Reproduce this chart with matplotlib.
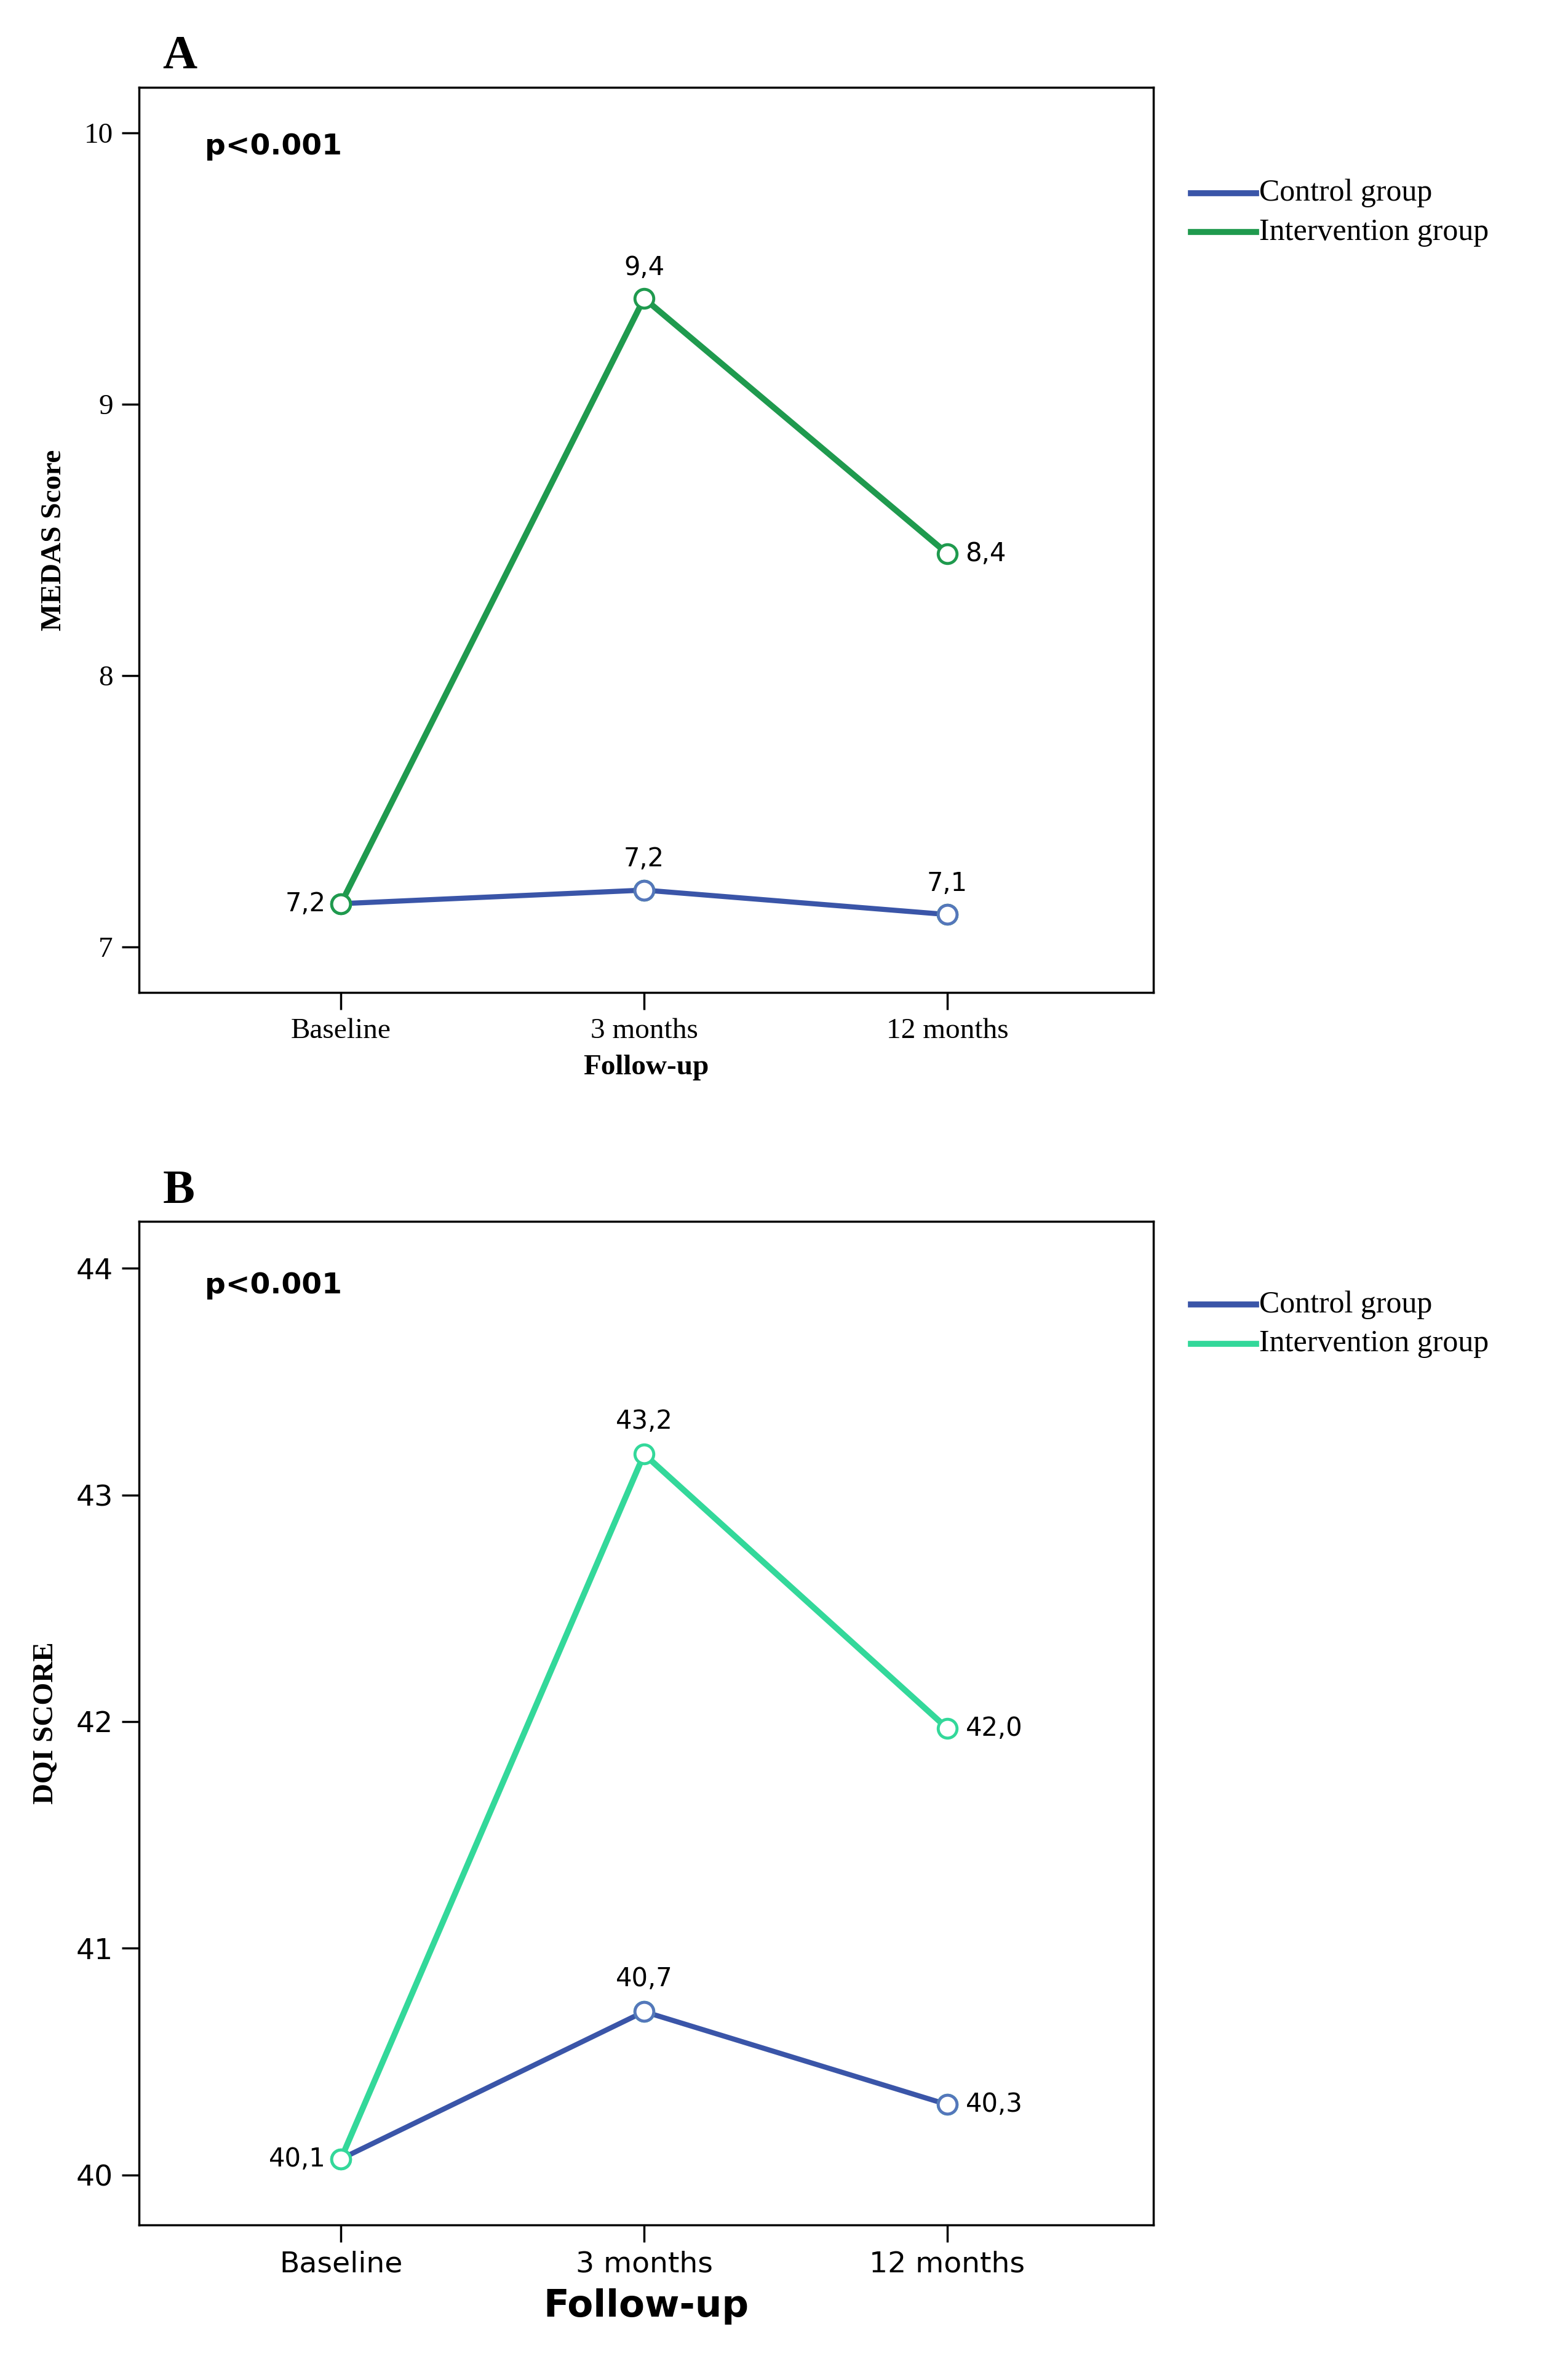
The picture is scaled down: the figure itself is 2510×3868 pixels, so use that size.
import matplotlib.pyplot as plt

timepoints = ["Baseline", "3 months", "12 months"]
medas_control = [7.16, 7.21, 7.12]
medas_interv = [7.16, 9.39, 8.45]
medas_control_lbl = ["7,2", "7,2", "7,1"]
medas_interv_lbl = ["", "9,4", "8,4"]
dqi_control = [40.07, 40.72, 40.31]
dqi_interv = [40.07, 43.18, 41.97]
dqi_control_lbl = ["40,1", "40,7", "40,3"]
dqi_interv_lbl = ["", "43,2", "42,0"]

blue = "#3a55a8"
green_a = "#1f9a4e"
green_b = "#33d89a"

fig = plt.figure(figsize=(25.1, 38.68), dpi=100)
W, H = 1024, 1578

def panel(rect, ctrl, intv, clbl, ilbl, ylim, yticks, ylabel, gcol, letter, tickfont, xlabfont):
    ax = fig.add_axes(rect)
    x = list(range(len(timepoints)))
    ax.plot(x, intv, color=gcol, lw=7, zorder=2)
    ax.plot(x, ctrl, color=blue, lw=6, zorder=3)
    ax.plot(x, intv, 'o', ms=22, mfc='white', mec=gcol, mew=3.5, zorder=4)
    ax.plot(x, ctrl, 'o', ms=22, mfc='white', mec=blue if ctrl[0] != intv[0] else gcol, mew=3.5, zorder=5)
    ax.plot(x[1:], ctrl[1:], 'o', ms=22, mfc='white', mec="#5577bb", mew=3.5, zorder=5)
    span = ylim[1] - ylim[0]
    for i in range(3):
        if i == 0:
            ax.text(i - 0.05, ctrl[i], clbl[i], ha='right', va='center', fontsize=30, family='DejaVu Sans')
        elif i == 1:
            ax.text(i, ctrl[i] + span * 0.02, clbl[i], ha='center', va='bottom', fontsize=30, family='DejaVu Sans')
            ax.text(i, intv[i] + span * 0.02, ilbl[i], ha='center', va='bottom', fontsize=30, family='DejaVu Sans')
        else:
            ax.text(i + 0.06, intv[i], ilbl[i], ha='left', va='center', fontsize=30, family='DejaVu Sans')
            if ctrl[i] > 7.5:
                ax.text(i + 0.06, ctrl[i], clbl[i], ha='left', va='center', fontsize=30, family='DejaVu Sans')
            else:
                ax.text(i, ctrl[i] + span * 0.02, clbl[i], ha='center', va='bottom', fontsize=30, family='DejaVu Sans')
    ax.set_xlim(-0.667, 2.68)
    ax.set_ylim(*ylim)
    ax.set_yticks(yticks)
    ax.set_xticks(x)
    ax.set_xticklabels(timepoints, family=tickfont, fontsize=34)
    ax.set_yticklabels([str(t) for t in yticks], family=tickfont, fontsize=34)
    ax.tick_params(length=20, width=2.5, pad=10)
    for s in ax.spines.values():
        s.set_linewidth(2.5)
    ax.set_ylabel(ylabel, family='Liberation Serif', fontweight='bold', fontsize=34, labelpad=20)
    ax.set_xlabel("Follow-up", family=xlabfont, fontweight='bold', fontsize=34 if xlabfont == 'Liberation Serif' else 44, labelpad=12)
    ax.text(0.065, 0.95, "p<0.001", transform=ax.transAxes, fontsize=34, fontweight='bold', family='DejaVu Sans', va='top')
    fig.text(108 / W, rect[1] + rect[3] + 0.008, letter, family='Liberation Serif', fontweight='bold', fontsize=56)
    return ax

axA = panel([92 / W, 1 - 658 / H, 673 / W, 600 / H], medas_control, medas_interv,
            medas_control_lbl, medas_interv_lbl, (6.833, 10.167), [7, 8, 9, 10],
            "MEDAS Score", green_a, "A", 'Liberation Serif', 'Liberation Serif')
axB = panel([92 / W, 1 - 1475 / H, 673 / W, 665 / H], dqi_control, dqi_interv,
            dqi_control_lbl, dqi_interv_lbl, (39.78, 44.206), [40, 41, 42, 43, 44],
            "DQI SCORE", green_b, "B", 'DejaVu Sans', 'DejaVu Sans')

for y0, gcol in [(128, green_a), (865, green_b)]:
    for k, (lbl, col) in enumerate([("Control group", blue), ("Intervention group", gcol)]):
        yy = 1 - (y0 + 26 * k) / H
        fig.add_artist(plt.Line2D([790 / W, 833 / W], [yy, yy], color=col, lw=7))
        fig.text(835 / W, yy, lbl, family='Liberation Serif', fontsize=36, va='center')

fig.savefig("out.png", dpi=100)
